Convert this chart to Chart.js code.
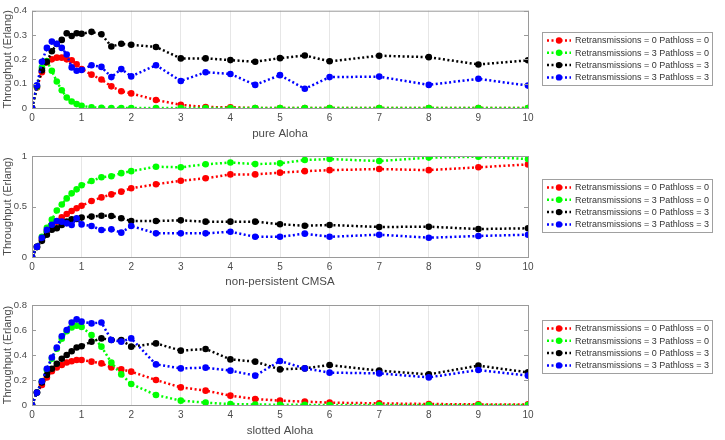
<!DOCTYPE html>
<html>
<head>
<meta charset="utf-8">
<script src="https://cdn.jsdelivr.net/npm/chart.js@4"></script>
<style>
  body { margin: 0; background: #fff; }
  canvas { position: absolute; left: 0; }
</style>
</head>
<body>
<canvas id="c1" width="725" height="145" style="top:0px"></canvas>
<canvas id="c2" width="725" height="147" style="top:145px"></canvas>
<canvas id="c3" width="725" height="148" style="top:292px"></canvas>
<script>
// offered load (x values shared by every series)
const loads = [0, 0.1, 0.2, 0.3, 0.4, 0.5, 0.6, 0.7, 0.8, 0.9, 1, 1.2, 1.4, 1.6, 1.8, 2, 2.5, 3, 3.5, 4, 4.5, 5, 5.5, 6, 7, 8, 9, 10];

const legendLabels = [
  "Retransmissions = 0 Pathloss = 0",
  "Retransmissions = 3 Pathloss = 0",
  "Retransmissions = 0 Pathloss = 3",
  "Retransmissions = 3 Pathloss = 3",
];
const seriesColors = ["#ff0000", "#00ff00", "#000000", "#0000ff"];

// pure Aloha
const alohaR0P0 = [0, 0.084, 0.147, 0.187, 0.2, 0.207, 0.207, 0.2, 0.196, 0.18, 0.16, 0.137, 0.117, 0.089, 0.069, 0.06, 0.033, 0.013, 0.004, 0.003, 0, 0, 0, 0, 0, 0, 0, 0];
const alohaR3P0 = [0, 0.087, 0.167, 0.193, 0.153, 0.109, 0.073, 0.043, 0.027, 0.016, 0.009, 0.003, 0.001, 0, 0, 0, 0, 0, 0, 0, 0, 0, 0, 0, 0, 0, 0, 0];
const alohaR0P3 = [0, 0.09, 0.155, 0.19, 0.233, 0.263, 0.28, 0.307, 0.296, 0.307, 0.305, 0.313, 0.303, 0.253, 0.264, 0.26, 0.251, 0.204, 0.204, 0.197, 0.19, 0.205, 0.216, 0.192, 0.215, 0.209, 0.179, 0.196];
const alohaR3P3 = [0, 0.093, 0.19, 0.247, 0.273, 0.264, 0.247, 0.22, 0.167, 0.153, 0.156, 0.176, 0.169, 0.127, 0.16, 0.13, 0.176, 0.111, 0.147, 0.14, 0.095, 0.135, 0.079, 0.127, 0.129, 0.095, 0.12, 0.092];

// non-persistent CSMA
const csmaR0P0 = [0, 0.1, 0.18, 0.26, 0.316, 0.35, 0.393, 0.426, 0.455, 0.482, 0.508, 0.554, 0.59, 0.62, 0.647, 0.68, 0.72, 0.755, 0.779, 0.818, 0.818, 0.835, 0.85, 0.86, 0.871, 0.86, 0.888, 0.917];
const csmaR3P0 = [0, 0.1, 0.2, 0.29, 0.37, 0.46, 0.52, 0.58, 0.63, 0.67, 0.71, 0.752, 0.79, 0.8, 0.83, 0.85, 0.894, 0.888, 0.918, 0.935, 0.92, 0.927, 0.96, 0.97, 0.95, 0.984, 0.993, 0.97];
const csmaR0P3 = [0, 0.1, 0.16, 0.22, 0.27, 0.285, 0.317, 0.35, 0.373, 0.376, 0.39, 0.4, 0.409, 0.406, 0.383, 0.356, 0.356, 0.363, 0.35, 0.35, 0.35, 0.324, 0.31, 0.317, 0.297, 0.3, 0.277, 0.284];
const csmaR3P3 = [0, 0.1, 0.19, 0.27, 0.32, 0.357, 0.35, 0.333, 0.317, 0.383, 0.323, 0.307, 0.267, 0.274, 0.241, 0.307, 0.234, 0.234, 0.234, 0.25, 0.2, 0.2, 0.231, 0.2, 0.221, 0.191, 0.208, 0.221];

// slotted Aloha
const slottedR0P0 = [0, 0.1, 0.16, 0.22, 0.27, 0.3, 0.32, 0.34, 0.35, 0.36, 0.36, 0.347, 0.333, 0.301, 0.285, 0.267, 0.2, 0.141, 0.115, 0.075, 0.048, 0.035, 0.027, 0.019, 0.013, 0.008, 0.005, 0.005];
const slottedR3P0 = [0, 0.1, 0.19, 0.28, 0.37, 0.45, 0.53, 0.59, 0.62, 0.635, 0.625, 0.56, 0.467, 0.339, 0.245, 0.168, 0.08, 0.035, 0.019, 0.008, 0.004, 0.002, 0.001, 0, 0, 0, 0, 0];
const slottedR0P3 = [0, 0.1, 0.18, 0.24, 0.29, 0.33, 0.37, 0.4, 0.43, 0.46, 0.47, 0.507, 0.533, 0.52, 0.52, 0.467, 0.493, 0.435, 0.448, 0.365, 0.347, 0.285, 0.293, 0.32, 0.275, 0.245, 0.315, 0.261];
const slottedR3P3 = [0, 0.1, 0.19, 0.29, 0.38, 0.46, 0.55, 0.6, 0.66, 0.685, 0.667, 0.653, 0.66, 0.52, 0.507, 0.533, 0.325, 0.293, 0.299, 0.275, 0.235, 0.352, 0.293, 0.259, 0.253, 0.221, 0.28, 0.235];

const FONT = "'Liberation Sans', Arial, sans-serif";
const TEXT = "#4a4a4a";

// axes box + inward y ticks like matlab
const boxPlugin = {
  id: "box",
  afterDraw(chart) {
    const { ctx, chartArea: a } = chart;
    const y = chart.scales.y;
    ctx.save();
    ctx.strokeStyle = "#9a9a9a";
    ctx.lineWidth = 1;
    ctx.strokeRect(a.left + 0.5, a.top + 0.5, a.right - a.left, a.bottom - a.top);
    ctx.beginPath();
    y.ticks.forEach((t) => {
      const py = Math.round(y.getPixelForValue(t.value)) + 0.5;
      ctx.moveTo(a.left, py); ctx.lineTo(a.left + 4, py);
      ctx.moveTo(a.right, py); ctx.lineTo(a.right - 4, py);
    });
    ctx.stroke();
    ctx.restore();
  },
};

// boxed legend to the right of the axes
const legendPlugin = {
  id: "boxLegend",
  afterDraw(chart, args, opts) {
    const { ctx, chartArea: a } = chart;
    const left = a.right + 14, top = opts.top, w = 170, h = 53;
    ctx.save();
    ctx.fillStyle = "#fff";
    ctx.fillRect(left, top, w, h);
    ctx.strokeStyle = "#a0a0a0";
    ctx.lineWidth = 1;
    ctx.strokeRect(left + 0.5, top + 0.5, w, h);
    ctx.font = "9px " + FONT;
    ctx.textBaseline = "middle";
    chart.data.datasets.forEach((ds, i) => {
      const ry = top + 8.5 + i * 12.3;
      ctx.strokeStyle = ds.borderColor;
      ctx.lineWidth = 2.5;
      ctx.setLineDash([2, 2.5]);
      ctx.beginPath();
      ctx.moveTo(left + 5, ry); ctx.lineTo(left + 29, ry);
      ctx.stroke();
      ctx.setLineDash([]);
      ctx.fillStyle = ds.borderColor;
      ctx.beginPath();
      ctx.arc(left + 17, ry, 3.2, 0, Math.PI * 2);
      ctx.fill();
      ctx.fillStyle = "#333";
      ctx.fillText(ds.label, left + 33, ry + 0.5);
    });
    ctx.restore();
  },
};

function makeChart(id, title, series, yMax, yStep, opt) {
  const datasets = series.map((vals, i) => ({
    label: legendLabels[i],
    data: loads.map((x, k) => ({ x: x, y: vals[k] })),
    borderColor: seriesColors[i],
    backgroundColor: seriesColors[i],
    borderWidth: 2.5,
    borderDash: [2, 2.5],
    pointRadius: 3.3,
    pointBorderWidth: 0,
    pointBackgroundColor: seriesColors[i],
    tension: 0,
    order: 4 - i, // later series on top
  }));

  return new Chart(document.getElementById(id), {
    type: "line",
    data: { datasets },
    options: {
      responsive: false,
      animation: false,
      layout: { padding: { left: 0, right: 197, top: opt.padTop, bottom: 0 } },
      plugins: {
        legend: { display: false },
        tooltip: { enabled: false },
        boxLegend: { top: opt.legendTop },
      },
      scales: {
        x: {
          type: "linear",
          min: 0,
          max: 10,
          ticks: { stepSize: 1, padding: 4, color: TEXT, font: { family: FONT, size: 10 } },
          grid: { color: "#e6e6e6", drawTicks: false },
          border: { display: false },
          title: {
            display: true,
            text: title,
            color: TEXT,
            font: { family: FONT, size: 11.5 },
            padding: { top: 0, bottom: opt.titlePad },
          },
          afterFit: (s) => { s.height = opt.xH; },
        },
        y: {
          min: 0,
          max: yMax,
          ticks: {
            stepSize: yStep,
            padding: 5,
            color: TEXT,
            font: { family: FONT, size: 9.5 },
            callback: (v) => String(+v.toFixed(2)),
          },
          grid: { display: false, drawTicks: false },
          border: { display: false },
          title: {
            display: true,
            text: "Throughput (Erlang)",
            color: TEXT,
            font: { family: FONT, size: 11 },
            padding: { top: 1, bottom: 0 },
          },
          afterFit: (s) => { s.width = 32; },
        },
      },
    },
    plugins: [boxPlugin, legendPlugin],
  });
}

makeChart("c1", "pure Aloha", [alohaR0P0, alohaR3P0, alohaR0P3, alohaR3P3], 0.4, 0.1,
  { padTop: 8, xH: 37, titlePad: 4, legendTop: 32 });
makeChart("c2", "non-persistent CMSA", [csmaR0P0, csmaR3P0, csmaR0P3, csmaR3P3], 1, 0.5,
  { padTop: 11, xH: 35, titlePad: 3, legendTop: 34 });
makeChart("c3", "slotted Aloha", [slottedR0P0, slottedR3P0, slottedR0P3, slottedR3P3], 0.8, 0.2,
  { padTop: 13, xH: 35, titlePad: 2, legendTop: 28 });
</script>
</body>
</html>
